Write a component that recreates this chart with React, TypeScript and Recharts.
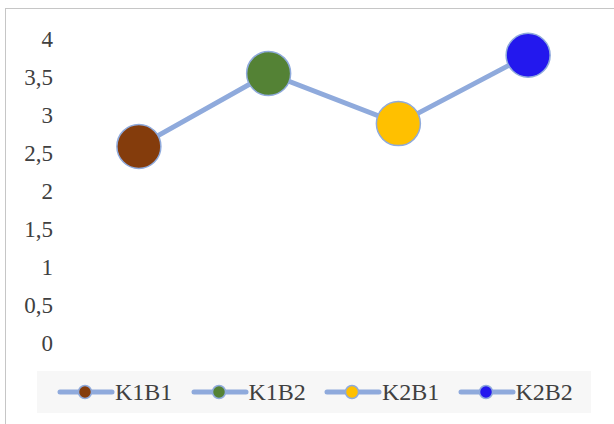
import { LineChart, Line, XAxis, YAxis } from 'recharts';

const categories = ['K1B1', 'K1B2', 'K2B1', 'K2B2'];
const values = [2.58, 3.54, 2.88, 3.78];
const pointColors = ['#843C0C', '#548235', '#FFC000', '#2318EE'];
const yTicks = [0, 0.5, 1, 1.5, 2, 2.5, 3, 3.5, 4];

const data = categories.map((name, i) => ({ name, value: values[i] }));

const FONT = "'Liberation Serif', 'Times New Roman', serif";
const LINE_COLOR = '#8FAADC';

function PointDot(props: any) {
  const { cx, cy, index } = props;
  return (
    <circle
      key={`dot-${index}`}
      cx={cx}
      cy={cy}
      r={22}
      fill={pointColors[index]}
      stroke={LINE_COLOR}
      strokeWidth={1.5}
    />
  );
}

function LegendBox() {
  return (
    <div
      style={{
        position: 'absolute',
        left: 37,
        top: 371,
        width: 554,
        height: 42,
        background: '#F7F7F7',
        display: 'flex',
        alignItems: 'center',
        paddingLeft: 20,
        boxSizing: 'border-box',
      }}
    >
      {categories.map((name, i) => (
        <div key={name} style={{ width: 135, display: 'flex', alignItems: 'center' }}>
          <svg width={58} height={16} style={{ display: 'block' }}>
            <line x1={3} y1={8} x2={55} y2={8} stroke={LINE_COLOR} strokeWidth={5} strokeLinecap="round" />
            <circle cx={28} cy={8} r={6.5} fill={pointColors[i]} stroke={LINE_COLOR} strokeWidth={1.5} />
          </svg>
          <span style={{ fontFamily: FONT, fontSize: 24, color: '#404040', marginLeft: 0, lineHeight: '24px' }}>
            {name}
          </span>
        </div>
      ))}
    </div>
  );
}

export default function App() {
  return (
    <div
      style={{
        position: 'absolute',
        left: 0,
        top: 0,
        width: 614,
        height: 424,
        overflow: 'hidden',
        background: '#fff',
      }}
    >
      <div
        style={{
          position: 'absolute',
          left: 5,
          top: 8,
          width: 700,
          height: 500,
          border: '1.5px solid #C6C6C6',
        }}
      />
      <div style={{ position: 'absolute', left: 0, top: 0 }}>
        <LineChart
          width={614}
          height={424}
          data={data}
          margin={{ top: 38.5, right: 21, bottom: 81.5, left: 0 }}
        >
          <XAxis dataKey="name" scale="band" hide />
          <YAxis
            domain={[0, 4]}
            ticks={yTicks}
            width={74}
            axisLine={false}
            tickLine={false}
            tickSize={0}
            tickMargin={21}
            interval={0}
            tick={{ fill: '#404040', fontSize: 23, fontFamily: FONT }}
            tickFormatter={(v: number) => String(v).replace('.', ',')}
          />
          <Line
            type="linear"
            dataKey="value"
            stroke={LINE_COLOR}
            strokeWidth={5}
            dot={PointDot}
            activeDot={false}
            isAnimationActive={false}
          />
        </LineChart>
      </div>
      <LegendBox />
    </div>
  );
}
